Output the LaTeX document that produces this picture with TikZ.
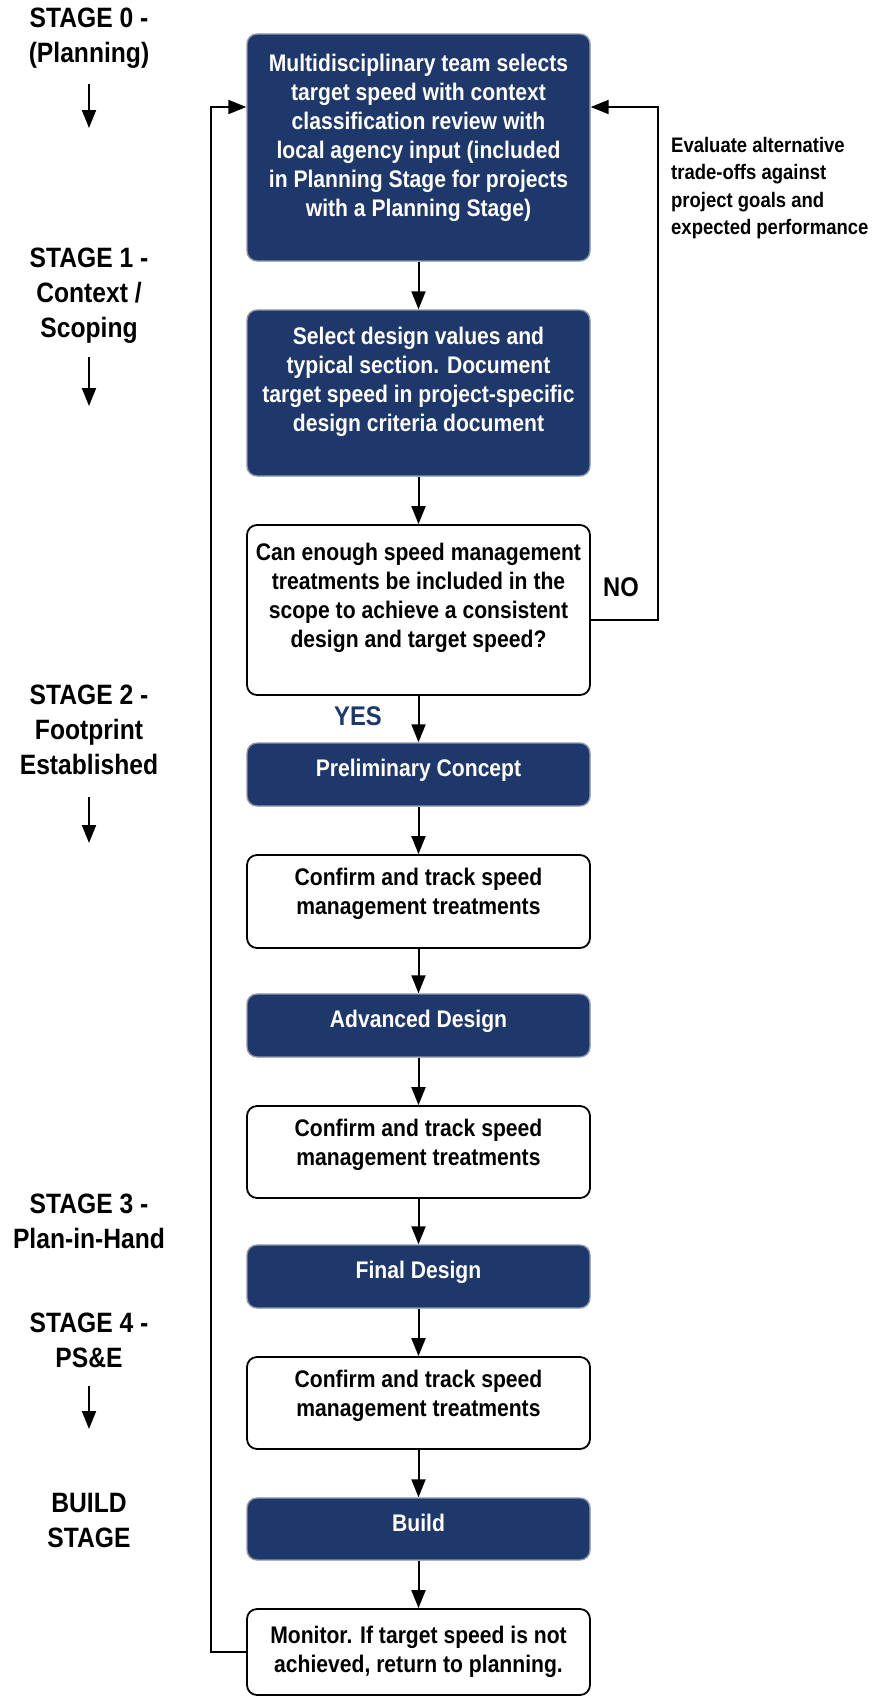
\documentclass[tikz,border=0pt]{standalone}
\usepackage{fontspec}
\setmainfont{Liberation Sans}[FakeStretch=0.88]
\usetikzlibrary{arrows.meta}
\definecolor{navy}{RGB}{31,56,108}
\definecolor{rim}{RGB}{140,150,170}
% extra depth under the last line, raising the text block inside its box
\newcommand\raiseby[1]{\rule[-#1]{0pt}{#1}}
\begin{document}
\begin{tikzpicture}[x=1pt,y=-1pt,
  boxtext/.style={align=center, inner sep=0pt, font=\fontsize{24}{29}\selectfont\bfseries},
  darkbox/.style={boxtext, draw=rim, line width=1.4pt, fill=navy, text=white,
    rounded corners=10pt, minimum width=343pt},
  whitebox/.style={boxtext, draw=black, line width=1.8pt, fill=white, text=black,
    rounded corners=10pt, minimum width=343pt},
  flow/.style={line width=2pt, -{Triangle[width=14pt,length=18pt]}},
  stagelab/.style={align=center, inner sep=0pt, font=\fontsize{28}{35}\selectfont\bfseries},
  answer/.style={inner sep=0pt, font=\fontsize{27}{30}\selectfont\bfseries},
  note/.style={align=left, inner sep=0pt, anchor=north west, font=\fontsize{21}{27.5}\selectfont\bfseries}
]
\useasboundingbox (0,0) rectangle (875,1697);

% process column
\node[darkbox, minimum height=227pt] (b1) at (418.5,147.5)
  {Multidisciplinary team selects\\target speed with context\\classification review with\\local agency input (included\\in Planning Stage for projects\\with a Planning Stage)\raiseby{24pt}};
\node[darkbox, minimum height=166pt] (b2) at (418.5,393)
  {Select design values and\\typical section. Document\\target speed in project-specific\\design criteria document\raiseby{28pt}};
\node[whitebox, minimum height=170pt] (dec) at (418.5,610)
  {Can enough speed management\\treatments be included in the\\scope to achieve a consistent\\design and target speed?\raiseby{30pt}};
\node[darkbox, minimum height=63pt] (pre) at (418.5,774.5) {Preliminary Concept\raiseby{13pt}};
\node[whitebox, minimum height=93pt] (c1) at (418.5,901.5)
  {Confirm and track speed\\management treatments\raiseby{20pt}};
\node[darkbox, minimum height=63pt] (adv) at (418.5,1025.5) {Advanced Design\raiseby{13pt}};
\node[whitebox, minimum height=92pt] (c2) at (418.5,1152)
  {Confirm and track speed\\management treatments\raiseby{20pt}};
\node[darkbox, minimum height=63pt] (fin) at (418.5,1276.5) {Final Design\raiseby{13pt}};
\node[whitebox, minimum height=92pt] (c3) at (418.5,1403)
  {Confirm and track speed\\management treatments\raiseby{20pt}};
\node[darkbox, minimum height=62pt] (bld) at (418.5,1529) {Build\raiseby{13pt}};
\node[whitebox, minimum height=86pt] (mon) at (418.5,1652)
  {Monitor. If target speed is not\\achieved, return to planning.};

\draw[flow] (b1.south) -- (b2.north);
\draw[flow] (b2.south) -- (dec.north);
\draw[flow] (dec.south) -- (pre.north);
\draw[flow] (pre.south) -- (c1.north);
\draw[flow] (c1.south) -- (adv.north);
\draw[flow] (adv.south) -- (c2.north);
\draw[flow] (c2.south) -- (fin.north);
\draw[flow] (fin.south) -- (c3.north);
\draw[flow] (c3.south) -- (bld.north);
\draw[flow] (bld.south) -- (mon.north);

% loops back to the first box
\coordinate (backleft) at (211,107);
\coordinate (backright) at (658,107);
\coordinate (nolevel) at (0,620);
\draw[flow] (mon.west) -| (backleft) -- (b1.west |- backleft);
\draw[flow] (dec.east |- nolevel) -| (backright) -- (b1.east |- backright);

\node[answer] (no) at (621,587) {NO};
\node[answer, text=navy] (yes) at (358,716) {YES};
\node[note] (eval) at (671,137)
  {Evaluate alternative\\trade-offs against\\project goals and\\expected performance};

% stage labels
\node[stagelab] (s0) at (89,38) {STAGE 0 -\\(Planning)};
\node[stagelab] (s1) at (89,296) {STAGE 1 -\\Context /\\Scoping};
\node[stagelab] (s2) at (89,730) {STAGE 2 -\\Footprint\\Established};
\node[stagelab] (s3) at (89,1221) {STAGE 3 -\\Plan-in-Hand};
\node[stagelab] (s4) at (89,1340) {STAGE 4 -\\PS\&E};
\node[stagelab] (s5) at (89,1520) {BUILD\\STAGE};

\coordinate (s0end) at (89,128);
\coordinate (s1end) at (89,406);
\coordinate (s2end) at (89,843);
\coordinate (s4end) at (89,1429);
\draw[flow] (s0.south |- 0,84) -- (s0end);
\draw[flow] (s1.south |- 0,357) -- (s1end);
\draw[flow] (s2.south |- 0,797) -- (s2end);
\draw[flow] (s4.south |- 0,1386) -- (s4end);
\end{tikzpicture}
\end{document}
